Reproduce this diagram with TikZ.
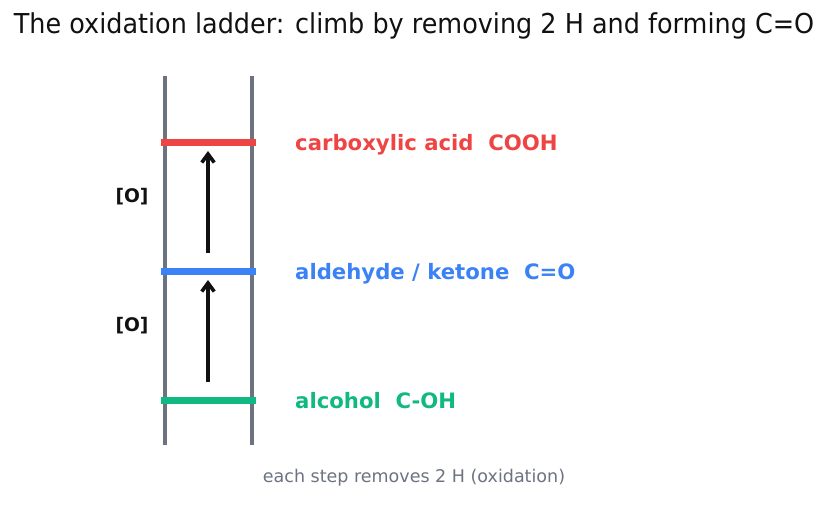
\documentclass[tikz,border=0pt]{standalone}
\usepackage{fontspec}
\setmainfont{DejaVu Sans}
\newfontfamily\titlefont[FakeStretch=0.93]{DejaVu Sans}
\usetikzlibrary{arrows.meta}
\definecolor{rail}{HTML}{6B7280}
\definecolor{cred}{HTML}{EF4444}
\definecolor{cblue}{HTML}{3B82F6}
\definecolor{cgreen}{HTML}{10B981}
\definecolor{ink}{HTML}{111111}
\definecolor{foot}{HTML}{6B7280}
\tikzset{
  railline/.style={draw=rail, line width=3.5pt},
  rung/.style={line width=7pt},
  steparrow/.style={draw=ink, line width=3.3pt, -{Straight Barb[length=8.5pt,width=12.5pt,line width=3.6pt]}},
  lbl/.style={anchor=base west, font=\fontsize{21.2}{24}\selectfont\bfseries, inner sep=0pt},
  oxlbl/.style={font=\fontsize{18.7}{22}\selectfont\bfseries, text=ink, inner sep=0pt},
}
\begin{document}
\begin{tikzpicture}[x=1pt,y=-1pt]
\useasboundingbox (0,0) rectangle (828,512);
\node[font=\titlefont\fontsize{27.4}{30}\selectfont, text=ink, inner sep=0pt, anchor=base] (title) at (414,33.5) {The oxidation ladder: climb by removing 2 H and forming C=O};
% rails
\coordinate (lt) at (165,76); \coordinate (lb) at (165,445);
\coordinate (rt) at (252,76); \coordinate (rb) at (252,445);
\draw[railline] (lt) -- (lb);
\draw[railline] (rt) -- (rb);
% rungs
\coordinate (r1a) at (161,142); \coordinate (r1b) at (256,142);
\coordinate (r2a) at (161,271); \coordinate (r2b) at (256,271);
\coordinate (r3a) at (161,400); \coordinate (r3b) at (256,400);
\draw[rung, cred] (r1a) -- (r1b);
\draw[rung, cblue] (r2a) -- (r2b);
\draw[rung, cgreen] (r3a) -- (r3b);
% arrows
\coordinate (a1s) at (208,253); \coordinate (a1e) at (208,151);
\coordinate (a2s) at (208,382); \coordinate (a2e) at (208,280);
\draw[steparrow] (a1s) -- (a1e);
\draw[steparrow] (a2s) -- (a2e);
% labels
\node[oxlbl] (o1) at (132,196.5) {[O]};
\node[oxlbl] (o2) at (132,325.5) {[O]};
\node[lbl, text=cred] (acid) at (295,150) {carboxylic acid\ \ COOH};
\node[lbl, text=cblue] (ald) at (295,279) {aldehyde / ketone\ \ C=O};
\node[lbl, text=cgreen] (alc) at (295,408) {alcohol\ \ C-OH};
\node[font=\fontsize{17.5}{20}\selectfont, text=foot, inner sep=0pt] (note) at (414,477.5) {each step removes 2 H (oxidation)};
\end{tikzpicture}
\end{document}
